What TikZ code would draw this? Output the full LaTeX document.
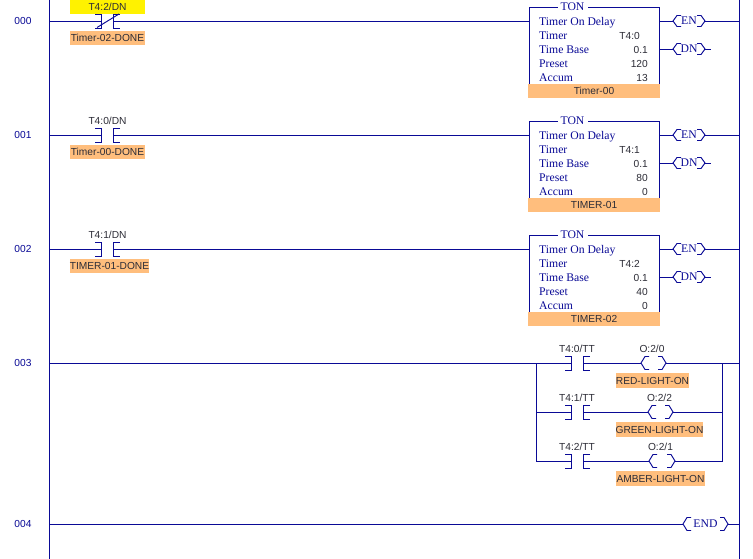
\documentclass[tikz,border=0pt]{standalone}
\usepackage{fontspec}
\setmainfont{Liberation Sans}
\newfontfamily\serifface{Liberation Serif}
\definecolor{wire}{RGB}{10,10,150}
\definecolor{tagorange}{RGB}{255,190,125}
\definecolor{txt}{RGB}{45,45,55}
\tikzset{
  wireline/.style={draw=wire,line width=0.95pt,line cap=butt,line join=miter},
  rungno/.style={text=wire,font=\fontsize{10.2}{10}\selectfont,inner sep=0pt},
  addr/.style={text=txt,font=\fontsize{10.2}{10}\selectfont,inner sep=0pt},
  tagbox/.style={fill=tagorange,text=txt,font=\fontsize{10.2}{10}\selectfont,inner sep=0pt,minimum height=14.5pt,anchor=center},
  serifleft/.style={text=wire,font=\serifface\fontsize{11.7}{12}\selectfont,inner sep=0pt,anchor=base west},
  valright/.style={text=txt,font=\fontsize{10.2}{10}\selectfont,inner sep=0pt,anchor=base east},
  coiltext/.style={text=wire,font=\serifface\fontsize{11.7}{12}\selectfont,inner sep=0pt},
}
% contact: id, left bracket x, rung y
\newcommand{\contactmark}[3]{%
  \coordinate (#1-l) at (#2+6.5,#3);
  \coordinate (#1-r) at (#2+18.5,#3);
  \draw[wireline] (#2,#3-7) -- (#2+6.5,#3-7) -- (#2+6.5,#3+7) -- (#2,#3+7);
  \draw[wireline] (#2+25,#3-7) -- (#2+18.5,#3-7) -- (#2+18.5,#3+7) -- (#2+25,#3+7);
}
% coil outline: id, left x, right x, rung y, half height
\newcommand{\coilmark}[5]{%
  \coordinate (#1-l) at (#2,#4);
  \coordinate (#1-r) at (#3,#4);
  \draw[wireline] (#2+8,#4-#5) -- (#2+4,#4-#5) -- (#2,#4) -- (#2+4,#4+#5) -- (#2+8,#4+#5);
  \draw[wireline] (#3-8,#4-#5) -- (#3-4,#4-#5) -- (#3,#4) -- (#3-4,#4+#5) -- (#3-8,#4+#5);
}
% timer block: id, rung y, address, preset, accum, tag
\newcommand{\timerblock}[6]{%
  \coordinate (#1-in) at (529,#2);
  \coordinate (#1-en) at (659,#2);
  \coordinate (#1-dn) at (659,#2+28);
  \draw[wireline] (529,#2+63) -- (529,#2-14) -- (659,#2-14) -- (659,#2+63);
  \node[fill=white,inner sep=0pt,minimum width=30pt,minimum height=12pt,text=wire,font=\serifface\fontsize{11.7}{12}\selectfont] (#1-title) at (572.5,#2-14) {TON};
  \node[serifleft] (#1-a) at (539,#2+4.5) {Timer On Delay};
  \node[serifleft] (#1-b) at (539,#2+18.5) {Timer};
  \node[serifleft] (#1-c) at (539,#2+32.5) {Time Base};
  \node[serifleft] (#1-d) at (539,#2+46.5) {Preset};
  \node[serifleft] (#1-e) at (539,#2+60.5) {Accum};
  \node[valright] (#1-f) at (640,#2+18.5) {#3};
  \node[valright] (#1-g) at (648,#2+32.5) {0.1};
  \node[valright] (#1-h) at (648,#2+46.5) {#4};
  \node[valright] (#1-i) at (648,#2+60.5) {#5};
  \node[tagbox,minimum width=132pt] (#1-tag) at (594,#2+70) {#6};
  \coilmark{#1-encoil}{673}{705}{#2}{5.5}
  \coilmark{#1-dncoil}{673}{705}{#2+28}{5.5}
  \node[coiltext] (#1-entxt) at (689,#2) {EN};
  \node[coiltext] (#1-dntxt) at (689,#2+28) {DN};
  \coordinate (#1-rail) at (739,#2);
  \coordinate (#1-stub) at (711,#2+28);
  \draw[wireline] (#1-en) -- (#1-encoil-l) (#1-encoil-r) -- (#1-rail);
  \draw[wireline] (#1-dn) -- (#1-dncoil-l) (#1-dncoil-r) -- (#1-stub);
}
\begin{document}
\begin{tikzpicture}[x=1pt,y=-1pt]
\useasboundingbox[fill=white] (0,0) rectangle (753,559);
% rails
\coordinate (railLtop) at (49,0);
\coordinate (railLbot) at (49,559);
\coordinate (railRtop) at (739,0);
\coordinate (railRbot) at (739,559);
\draw[wireline] (railLtop) -- (railLbot);
\draw[wireline] (railRtop) -- (railRbot);
% rung numbers
\node[rungno] (n0) at (23,21) {000};
\node[rungno] (n1) at (23,135) {001};
\node[rungno] (n2) at (23,249) {002};
\node[rungno] (n3) at (23,363) {003};
\node[rungno] (n4) at (23,524) {004};
% rung starts
\coordinate (s0) at (49,21);
\coordinate (s1) at (49,135);
\coordinate (s2) at (49,249);
\coordinate (s3) at (49,363);
\coordinate (s4) at (49,524);
% rung 000
\node[fill=yellow,text=txt,font=\fontsize{10.2}{10}\selectfont,inner sep=0pt,minimum width=75pt,minimum height=14pt] (a0) at (107.5,7) {T4:2/DN};
\contactmark{c0}{95}{21}
\draw[wireline] (97,27.5) -- (119,14);
\node[tagbox,minimum width=75pt] (t0) at (107.5,38) {Timer-02-DONE};
\timerblock{tm0}{21}{T4:0}{120}{13}{Timer-00}
\draw[wireline] (s0) -- (c0-l) (c0-r) -- (tm0-in);
% rung 001
\node[addr] (a1) at (107.5,121) {T4:0/DN};
\contactmark{c1}{95}{135}
\node[tagbox,minimum width=75pt] (t1) at (107.5,152) {Timer-00-DONE};
\timerblock{tm1}{135}{T4:1}{80}{0}{TIMER-01}
\draw[wireline] (s1) -- (c1-l) (c1-r) -- (tm1-in);
% rung 002
\node[addr] (a2) at (107.5,235) {T4:1/DN};
\contactmark{c2}{95}{249}
\node[tagbox,minimum width=79pt] (t2) at (109.5,266) {TIMER-01-DONE};
\timerblock{tm2}{249}{T4:2}{40}{0}{TIMER-02}
\draw[wireline] (s2) -- (c2-l) (c2-r) -- (tm2-in);
% rung 003
\coordinate (brL0) at (536,363);
\coordinate (brL1) at (536,412);
\coordinate (brL2) at (536,461);
\coordinate (brR0) at (722,363);
\coordinate (brR1) at (722,412);
\coordinate (brR2) at (722,461);
\coordinate (r3) at (739,363);
\contactmark{d0}{565}{363}
\contactmark{d1}{565}{412}
\contactmark{d2}{565}{461}
\coilmark{o0}{641}{666}{363}{6.5}
\coilmark{o1}{648}{673}{412}{6.5}
\coilmark{o2}{649}{675}{461}{6.5}
\draw[wireline] (s3) -- (d0-l) (d0-r) -- (o0-l) (o0-r) -- (r3);
\draw[wireline] (brL0) -- (brL2) -- (d2-l) (d2-r) -- (o2-l) (o2-r) -- (brR2) -- (brR0);
\draw[wireline] (brL1) -- (d1-l) (d1-r) -- (o1-l) (o1-r) -- (brR1);
\node[addr] (e0) at (577,349) {T4:0/TT};
\node[addr] (e1) at (577,398) {T4:1/TT};
\node[addr] (e2) at (577,447) {T4:2/TT};
\node[addr] (p0) at (652,349) {O:2/0};
\node[addr] (p1) at (659.5,398) {O:2/2};
\node[addr] (p2) at (660.5,447) {O:2/1};
\node[tagbox,minimum width=73pt] (g0) at (652.5,380.5) {RED-LIGHT-ON};
\node[tagbox,minimum width=87pt] (g1) at (659.5,429.5) {GREEN-LIGHT-ON};
\node[tagbox,minimum width=89pt] (g2) at (660.5,478.5) {AMBER-LIGHT-ON};
% rung 004
\coilmark{endc}{683}{728}{524}{6.5}
\node[coiltext] (endt) at (705.5,524) {END};
\coordinate (r4) at (739,524);
\draw[wireline] (s4) -- (endc-l) (endc-r) -- (r4);
\end{tikzpicture}
\end{document}
